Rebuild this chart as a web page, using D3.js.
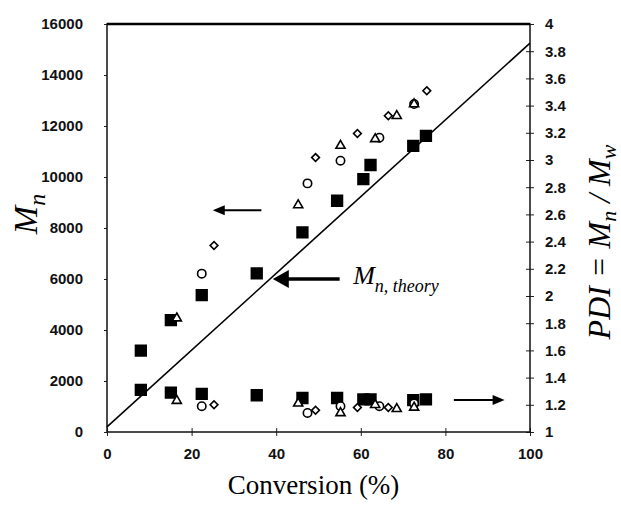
<!DOCTYPE html>
<html>
<head>
<meta charset="utf-8">
<script src="https://cdn.jsdelivr.net/npm/d3@7"></script>
<style>
  body { margin: 0; background: #fff; }
  svg { display: block; }
</style>
</head>
<body>
<div id="chart"></div>
<script>
// data
const xTicks = [0, 20, 40, 60, 80, 100];
const mnTicks = [0, 2000, 4000, 6000, 8000, 10000, 12000, 14000, 16000];
const pdiTicks = [1, 1.2, 1.4, 1.6, 1.8, 2, 2.2, 2.4, 2.6, 2.8, 3, 3.2, 3.4, 3.6, 3.8, 4];

const theoryConv = [0, 100];
const theoryMn = [200, 15250];

const squareConv = [8.0, 15.1, 22.4, 35.4, 46.2, 54.4, 60.6, 62.3, 72.4, 75.4];
const squareMn = [3190, 4390, 5370, 6220, 7830, 9070, 9920, 10470, 11220, 11610];
const squarePdi = [1.31, 1.29, 1.28, 1.27, 1.25, 1.25, 1.24, 1.24, 1.235, 1.24];

const circleConv = [22.4, 47.4, 55.2, 64.4, 72.6];
const circleMn = [6210, 9750, 10640, 11540, 12860];
const circlePdi = [1.19, 1.14, 1.19, 1.19, 1.21];

const triangleConv = [16.5, 45.2, 55.2, 63.4, 68.5, 72.6];
const triangleMn = [4460, 8900, 11230, 11490, 12400, 12860];
const trianglePdi = [1.23, 1.21, 1.14, 1.20, 1.17, 1.18];

const diamondConv = [25.3, 49.3, 59.2, 66.5, 75.6];
const diamondMn = [7310, 10760, 11710, 12400, 13380];
const diamondPdi = [1.20, 1.16, 1.18, 1.18, null];

const W = 621, H = 506;
const margin = { top: 24, right: 91, bottom: 74, left: 107 };
const width = W - margin.left - margin.right;
const height = H - margin.top - margin.bottom;

const svg = d3.select("#chart").append("svg")
    .attr("width", W).attr("height", H);

const g = svg.append("g")
    .attr("transform", `translate(${margin.left},${margin.top})`);

const x = d3.scaleLinear().domain([0, 100]).range([0, width]);
const yMn = d3.scaleLinear().domain([0, 16000]).range([height, 0]);
const yPdi = d3.scaleLinear().domain([1, 4]).range([height, 0]);

const tickFont = "Liberation Sans, Arial, sans-serif";

//Axes
const xAxis = g.append("g")
    .attr("transform", `translate(0,${height})`)
    .call(d3.axisBottom(x).tickValues(xTicks).tickSize(4).tickPadding(12));

const yAxisL = g.append("g")
    .call(d3.axisLeft(yMn).tickValues(mnTicks).tickSize(3).tickPadding(21)
        .tickFormat(d3.format("d")));

const yAxisR = g.append("g")
    .attr("transform", `translate(${width},0)`)
    .call(d3.axisRight(yPdi).tickValues(pdiTicks).tickSize(4).tickPadding(11)
        .tickFormat(d => d3.format("~g")(d)));

[xAxis, yAxisL, yAxisR].forEach(a => {
    a.select(".domain").remove();
    a.selectAll(".tick text")
        .attr("fill", "#111")
        .style("font-family", tickFont)
        .style("font-size", "15px")
        .style("font-weight", "bold");
    a.selectAll(".tick line").attr("stroke", "#222");
});
// cross ticks on right and bottom axes
yAxisR.selectAll(".tick line").attr("x1", -4);
xAxis.selectAll(".tick line").attr("y1", -4);

// frame
g.append("rect")
    .attr("x", 0).attr("y", 0)
    .attr("width", width).attr("height", height)
    .attr("fill", "none").attr("stroke", "#111").attr("stroke-width", 1.5);
g.append("line")
    .attr("x1", 0).attr("x2", width).attr("y1", 0).attr("y2", 0)
    .attr("stroke", "#000").attr("stroke-width", 2.5);

// theory line
const line = d3.line().x(d => x(d[0])).y(d => yMn(d[1]));
g.append("path")
    .datum(d3.zip(theoryConv, theoryMn))
    .attr("d", line)
    .attr("fill", "none").attr("stroke", "#000").attr("stroke-width", 1.6);

// markers
const series = [
    { conv: squareConv, mn: squareMn, pdi: squarePdi, type: d3.symbolSquare, size: 115, fill: "#000", rot: 0 },
    { conv: diamondConv, mn: diamondMn, pdi: diamondPdi, type: d3.symbolSquare, size: 30, fill: "#fff", rot: 45 },
    { conv: circleConv, mn: circleMn, pdi: circlePdi, type: d3.symbolCircle, size: 55, fill: "#fff", rot: 0 },
    { conv: triangleConv, mn: triangleMn, pdi: trianglePdi, type: d3.symbolTriangle, size: 36, fill: "#fff", rot: 0 }
];

series.forEach(s => {
    const sym = d3.symbol().type(s.type).size(s.size);
    const pts = [];
    s.conv.forEach((c, i) => {
        pts.push({ x: x(c), y: yMn(s.mn[i]) });
        if (s.pdi[i] != null) pts.push({ x: x(c), y: yPdi(s.pdi[i]) });
    });
    g.selectAll(null)
        .data(pts)
        .enter()
        .append("path")
        .attr("d", sym)
        .attr("transform", d => `translate(${d.x},${d.y}) rotate(${s.rot})`)
        .attr("fill", s.fill)
        .attr("stroke", "#000")
        .attr("stroke-width", 1.6);
});

// arrows
function arrow(x1, x2, yy, headLen, headHalf, thick) {
    const dir = x2 > x1 ? 1 : -1;
    g.append("line")
        .attr("x1", x1).attr("x2", x2 - dir * headLen * 0.8)
        .attr("y1", yy).attr("y2", yy)
        .attr("stroke", "#000").attr("stroke-width", thick);
    g.append("path")
        .attr("d", `M${x2},${yy} L${x2 - dir * headLen},${yy - headHalf} L${x2 - dir * headLen},${yy + headHalf} Z`)
        .attr("fill", "#000");
}
arrow(x(36.5), x(25), yMn(8700), 12, 5, 2);
arrow(x(55), x(39.2), yMn(6000), 16, 9, 3.5);
arrow(x(82), x(94), yPdi(1.235), 12, 5, 2);

// M_n, theory label
const lab = g.append("text")
    .attr("x", x(58.2)).attr("y", yMn(5800))
    .style("font-family", "Liberation Serif, Times New Roman, serif")
    .style("font-style", "italic")
    .style("font-size", "26px")
    .attr("fill", "#000");
lab.append("tspan").text("M");
lab.append("tspan").attr("dy", 8).style("font-size", "18px").text("n, theory");

// axis titles
svg.append("text")
    .attr("x", margin.left + width / 2 - 5).attr("y", 494)
    .attr("text-anchor", "middle")
    .style("font-family", "Liberation Serif, Times New Roman, serif")
    .style("font-size", "27px")
    .text("Conversion (%)");

const lt = svg.append("text")
    .attr("transform", "translate(37,214) rotate(-90)")
    .attr("text-anchor", "middle")
    .style("font-family", "Liberation Serif, Times New Roman, serif")
    .style("font-style", "italic")
    .style("font-size", "34px");
lt.append("tspan").text("M");
lt.append("tspan").attr("dy", 8).style("font-size", "24px").text("n");

const rt = svg.append("text")
    .attr("transform", "translate(610,242) rotate(-90)")
    .attr("text-anchor", "middle")
    .style("font-family", "Liberation Serif, Times New Roman, serif")
    .style("font-style", "italic")
    .style("font-size", "32px");
rt.append("tspan").text("PDI = M");
rt.append("tspan").attr("dy", 6).style("font-size", "22px").text("n");
rt.append("tspan").attr("dy", -6).text(" / M");
rt.append("tspan").attr("dy", 6).style("font-size", "22px").text("w");
</script>
</body>
</html>
